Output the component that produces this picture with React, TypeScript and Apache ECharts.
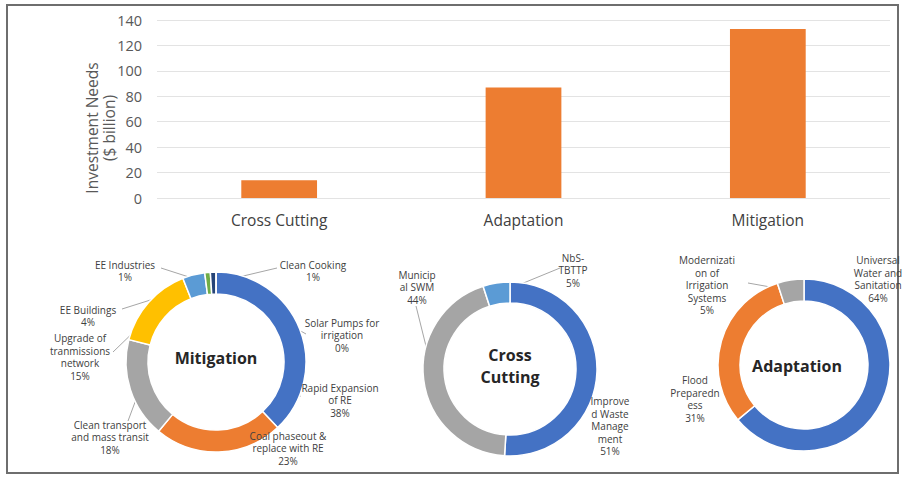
import React, { useEffect, useRef } from "react";
import * as echarts from "echarts";

// ---- Data ----
const barCategories = ["Cross Cutting", "Adaptation", "Mitigation"];
const barValues = [14, 87, 133];
const yAxisTitle = "Investment Needs\n($ billion)";

const mitigationNames = [
  "Rapid Expansion\nof RE",
  "Coal phaseout &\nreplace with RE",
  "Clean transport\nand mass transit",
  "Upgrade of\ntranmissions\nnetwork",
  "EE Buildings",
  "EE Industries",
  "Clean Cooking",
  "Solar Pumps for\nirrigation",
];
const mitigationValues = [38, 23, 18, 15, 4, 1, 1, 0];

const crossNames = ["Improve\nd Waste\nManage\nment", "Municip\nal SWM", "NbS-\nTBTTP"];
const crossValues = [51, 44, 5];

const adaptNames = ["Universal\nWater and\nSanitation", "Flood\nPreparedn\ness", "Modernizati\non of\nIrrigation\nSystems"];
const adaptValues = [64, 31, 5];

// ---- Styles / layout ----
const mitigationColors = ["#4472C4", "#ED7D31", "#A5A5A5", "#FFC000", "#5B9BD5", "#70AD47", "#264478", "#9E480E"];
const crossColors = ["#4472C4", "#A5A5A5", "#5B9BD5"];
const adaptColors = ["#4472C4", "#ED7D31", "#A5A5A5"];

const FONT = "'Open Sans', 'Noto Sans', sans-serif";
const TEXT = "#404040";
const LINE = "#A6A6A6";

const pies = [
  {
    title: "Mitigation",
    names: mitigationNames,
    values: mitigationValues,
    colors: mitigationColors,
    center: [216, 362],
    radius: [68, 90],
    labelPos: [[340, 400], [288, 448], [110, 437], [80, 357], [88, 316], [125, 271], [313, 271], [342, 335]],
    lineEnd: [[300, 397], null, [128, 421], [113, 352], [122, 309], [161, 268], [277, 268], [306, 334]],
  },
  {
    title: "Cross\nCutting",
    names: crossNames,
    values: crossValues,
    colors: crossColors,
    center: [510, 369],
    radius: [66, 87],
    labelPos: [[610, 426], [417, 287], [573, 270]],
    lineEnd: [null, [416, 306], [560, 268]],
  },
  {
    title: "Adaptation",
    names: adaptNames,
    values: adaptValues,
    colors: adaptColors,
    center: [804, 365],
    radius: [64, 86],
    labelPos: [[878, 279], [695, 399], [707, 285]],
    lineEnd: [null, null, [748, 283]],
  },
];

export default function App() {
  const ref = useRef<HTMLDivElement>(null);
  useEffect(() => {
    if (!ref.current) return;
    const chart = echarts.init(ref.current, null, { renderer: "svg" });

    const pieSeries = pies.map((p) => ({
      type: "pie",
      center: p.center,
      radius: p.radius,
      startAngle: 90,
      clockwise: true,
      silent: true,
      avoidLabelOverlap: false,
      itemStyle: { borderColor: "#fff", borderWidth: 1.5 },
      label: {
        show: true,
        position: "outside",
        formatter: "{b}\n{c}%",
        fontFamily: FONT,
        fontSize: 10,
        lineHeight: 12.5,
        color: TEXT,
        align: "center",
      },
      labelLine: { show: true, length: 10, length2: 10, lineStyle: { color: LINE, width: 1 } },
      labelLayout: (params: any) => {
        const i = params.dataIndex;
        const pos = p.labelPos[i];
        const end = p.lineEnd[i];
        const res: any = { x: pos[0], y: pos[1], align: "center", verticalAlign: "middle" };
        const pts = params.labelLinePoints;
        if (end && pts && pts[0]) {
          const cx = p.center[0], cy = p.center[1];
          const k = (p.radius[0] + p.radius[1]) / 2 / p.radius[1];
          const a = [cx + (pts[0][0] - cx) * k, cy + (pts[0][1] - cy) * k];
          res.labelLinePoints = [a, end, end];
        } else if (pts && pts[0]) {
          res.labelLinePoints = [pts[0], pts[0], pts[0]];
        }
        return res;
      },
      data: p.names.map((n, i) => ({
        name: n,
        value: p.values[i],
        itemStyle: { color: p.colors[i] },
      })),
    }));

    chart.setOption({
      animation: false,
      backgroundColor: "#fff",
      textStyle: { fontFamily: FONT },
      grid: { left: 157, right: 12, top: 20, bottom: 279 },
      xAxis: {
        type: "category",
        data: barCategories,
        axisLine: { show: false },
        axisTick: { show: false },
        axisLabel: { color: TEXT, fontSize: 15.5, fontFamily: FONT, margin: 14 },
      },
      yAxis: {
        type: "value",
        min: 0,
        max: 140,
        interval: 20,
        name: yAxisTitle,
        nameLocation: "middle",
        nameRotate: 90,
        nameGap: 40,
        nameMoveOverlap: false,
        nameTextStyle: { color: "#595959", fontSize: 15.5, fontFamily: FONT, lineHeight: 17, padding: [0, 38, 0, 0] },
        axisLabel: { color: "#595959", fontSize: 14.5, fontFamily: FONT, margin: 15 },
        splitLine: { lineStyle: { color: "#E3E3E3", width: 1 } },
        axisLine: { show: false },
        axisTick: { show: false },
      },
      series: [
        {
          type: "bar",
          data: barValues,
          barWidth: "31%",
          itemStyle: { color: "#ED7D31" },
          silent: true,
        },
        ...pieSeries,
      ],
      graphic: [
        {
          type: "rect",
          shape: { x: 7, y: 5, width: 891, height: 468 },
          style: { fill: "none", stroke: "#6E6E6E", lineWidth: 2 },
          silent: true,
        },
        ...pies.map((p) => ({
          type: "text",
          x: p.center[0] - (p.title === "Adaptation" ? 7 : 0),
          y: p.center[1] - (p.title === "Mitigation" ? 4 : p.title === "Adaptation" ? -1 : 3),
          style: {
            text: p.title,
            fontFamily: FONT,
            fontWeight: "bold",
            fontSize: 16,
            lineHeight: 22,
            fill: "#262626",
            align: "center",
            verticalAlign: "middle",
          },
          silent: true,
        })),
      ],
    });
    return () => chart.dispose();
  }, []);
  return <div ref={ref} style={{ position: "absolute", left: 0, top: 0, width: 902, height: 477 }} />;
}
